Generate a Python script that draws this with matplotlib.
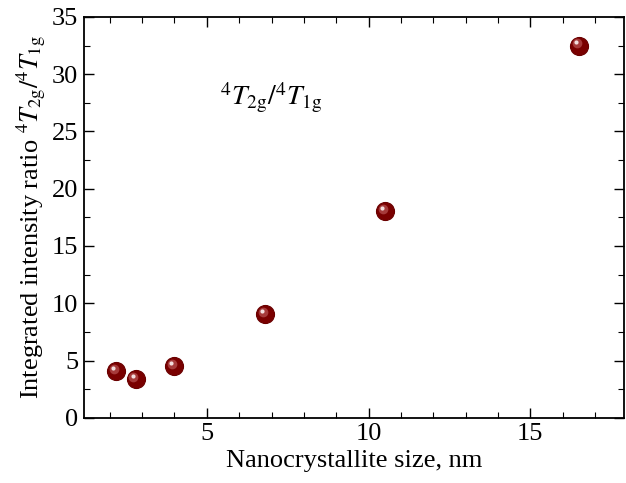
import matplotlib
matplotlib.use("Agg")
import matplotlib.pyplot as plt
from matplotlib.transforms import offset_copy

plt.rcParams["font.family"] = ["Liberation Serif", "DejaVu Serif"]
plt.rcParams["mathtext.fontset"] = "stix"

size_nm = [2.2, 2.8, 4.0, 6.8, 10.5, 16.5]
ratio = [4.05, 3.4, 4.5, 9.05, 18.05, 32.5]

fig = plt.figure(figsize=(6.26, 4.83), dpi=100)
ax = fig.add_axes([0.134, 0.135, 0.863, 0.83])

# sphere-like markers: dark body, softer ring, white highlight
ax.plot(size_nm, ratio, "o", ms=13, color="#7a0000", mec="#6a0000", mew=0.8, zorder=3)
hl1 = offset_copy(ax.transData, fig=fig, x=-1.6, y=1.6, units="points")
ax.plot(size_nm, ratio, "o", ms=7, color="#a63a3a", mew=0, transform=hl1, zorder=4)
hl2 = offset_copy(ax.transData, fig=fig, x=-2.2, y=2.2, units="points")
ax.plot(size_nm, ratio, "o", ms=3, color="#f2dede", mew=0, transform=hl2, zorder=5)

ax.set_xlim(1.2, 17.9)
ax.set_ylim(0, 35)
ax.set_xticks([5, 10, 15])
ax.set_xticks(range(2, 18), minor=True)
ax.set_yticks(range(0, 36, 5))
ax.set_yticks([x * 2.5 for x in range(15)], minor=True)
ax.tick_params(which="both", direction="in", top=True, right=True, labelsize=19)
ax.tick_params(which="major", length=7, width=1, pad=4)
ax.tick_params(which="minor", length=4, width=0.8)
for s in ax.spines.values():
    s.set_linewidth(1.3)

ax.set_xlabel("Nanocrystallite size, nm", fontsize=19, labelpad=3)
ax.set_ylabel(r"Integrated intensity ratio $^4T_{\mathrm{2g}}/^4T_{\mathrm{1g}}$", fontsize=19, labelpad=3)
ax.text(5.4, 27.3, r"$^4T_{\mathrm{2g}}/^4T_{\mathrm{1g}}$", fontsize=20)

fig.savefig("out.png", dpi=100)
